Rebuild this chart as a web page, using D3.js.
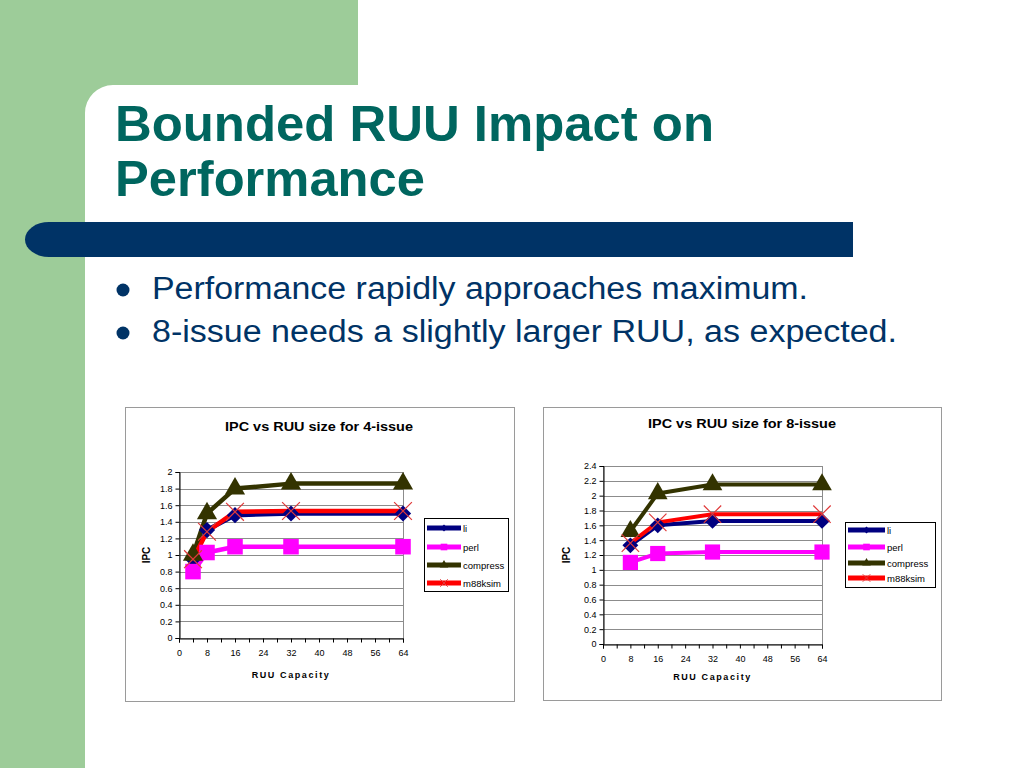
<!DOCTYPE html>
<html>
<head>
<meta charset="utf-8">
<script src="https://cdn.jsdelivr.net/npm/d3@7"></script>
<style>
  body { margin: 0; background: #fff; }
  svg { display: block; font-family: "Liberation Sans", Arial, sans-serif; }
</style>
</head>
<body>
<svg id="slide" width="1024" height="768"></svg>
<script>
// Data
const seriesNames = ["li", "perl", "compress", "m88ksim"];

const ruu4 = [4, 8, 16, 32, 64];
const li4 = [0.95, 1.3, 1.48, 1.5, 1.5];
const perl4 = [0.8, 1.03, 1.1, 1.1, 1.1];
const compress4 = [1.0, 1.5, 1.8, 1.86, 1.86];
const m88ksim4 = [0.95, 1.28, 1.52, 1.53, 1.53];

const ruu8 = [8, 16, 32, 64];
const li8 = [1.33, 1.6, 1.66, 1.66];
const perl8 = [1.1, 1.22, 1.24, 1.24];
const compress8 = [1.52, 2.03, 2.15, 2.15];
const m88ksim8 = [1.36, 1.64, 1.75, 1.75];

const xTicks = [0, 8, 16, 24, 32, 40, 48, 56, 64];
const yTicks4 = [0, 0.2, 0.4, 0.6, 0.8, 1, 1.2, 1.4, 1.6, 1.8, 2];
const yTicks8 = [0, 0.2, 0.4, 0.6, 0.8, 1, 1.2, 1.4, 1.6, 1.8, 2, 2.2, 2.4];

const bullets = [
  "Performance rapidly approaches maximum.",
  "8-issue needs a slightly larger RUU, as expected."
];
const bulletWidths = [656, 745];

const svg = d3.select("#slide");

// slide background: green L shape with a rounded inner corner
svg.append("path")
  .attr("d", "M0,0 H358 V85 H113 A28,28 0 0 0 85,113 V768 H0 Z")
  .attr("fill", "#9dcc99");

// title
const title = svg.append("text")
  .attr("font-size", 50).attr("font-weight", "bold").attr("fill", "#00665f");
title.append("tspan").attr("x", 115).attr("y", 141)
  .attr("textLength", 599).attr("lengthAdjust", "spacingAndGlyphs").text("Bounded RUU Impact on");
title.append("tspan").attr("x", 115).attr("y", 196)
  .attr("textLength", 310).attr("lengthAdjust", "spacingAndGlyphs").text("Performance");

// dark blue bar
svg.append("rect").attr("x", 25).attr("y", 222).attr("width", 828).attr("height", 35)
  .attr("rx", 24).attr("ry", 17.5).attr("fill", "#003366");
svg.append("rect").attr("x", 100).attr("y", 222).attr("width", 753).attr("height", 35)
  .attr("fill", "#003366");

// bullets
bullets.forEach(function (b, i) {
  svg.append("circle").attr("cx", 123).attr("cy", 290 + i * 43).attr("r", 6.5).attr("fill", "#003366");
  svg.append("text").attr("x", 152).attr("y", 299 + i * 43)
    .attr("font-size", 31).attr("fill", "#003366")
    .attr("textLength", bulletWidths[i]).attr("lengthAdjust", "spacingAndGlyphs").text(b);
});

const colors = { li: "#000080", perl: "#ff00ff", compress: "#333300", m88ksim: "#ff0000" };

function marker(name, size) {
  if (name === "li") return { path: d3.symbol(d3.symbolSquare, size * 0.6)(), rot: 45, fill: colors.li, stroke: "none" };
  if (name === "perl") return { path: d3.symbol(d3.symbolSquare, size * 1.1)(), rot: 0, fill: colors.perl, stroke: "none" };
  if (name === "compress") return { path: d3.symbol(d3.symbolTriangle, size * 0.8)(), rot: 0, fill: colors.compress, stroke: "none" };
  return { path: d3.symbol(d3.symbolX, size * 0.95)(), rot: 0, fill: "none", stroke: "#e03a3a" };
}

function drawChart(cfg) {
  const g = svg.append("g");

  g.append("rect").attr("x", cfg.box[0] + 0.5).attr("y", cfg.box[1] + 0.5)
    .attr("width", cfg.box[2]).attr("height", cfg.box[3])
    .attr("fill", "#fff").attr("stroke", "#9a9a9a");

  const x = d3.scaleLinear().domain([0, 64]).range([cfg.plot.l, cfg.plot.r]);
  const y = d3.scaleLinear().domain([0, cfg.yMax]).range([cfg.plot.b, cfg.plot.t]);

  // gridlines
  g.append("g").selectAll("line").data(cfg.yTicks).join("line")
    .attr("x1", cfg.plot.l).attr("x2", cfg.plot.r)
    .attr("y1", d => Math.round(y(d)) + 0.5).attr("y2", d => Math.round(y(d)) + 0.5)
    .attr("stroke", "#8c8c8c").attr("stroke-width", 1);

  g.append("rect").attr("x", cfg.plot.l + 0.5).attr("y", Math.round(y(cfg.yMax)) + 0.5)
    .attr("width", cfg.plot.r - cfg.plot.l).attr("height", Math.round(y(0)) - Math.round(y(cfg.yMax)))
    .attr("fill", "none").attr("stroke", "#8c8c8c");

  // axes
  const yAxis = d3.axisLeft(y).tickValues(cfg.yTicks).tickSize(4)
    .tickFormat(d => String(+d.toFixed(1)));
  g.append("g").attr("transform", "translate(" + (cfg.plot.l + 0.5) + ",0)").call(yAxis)
    .call(a => a.select(".domain").attr("stroke", "#000"))
    .call(a => a.selectAll("text").attr("font-size", 9).attr("font-family", "Liberation Sans, Arial").attr("fill", "#000"));

  const xAxis = d3.axisBottom(x).tickValues(d3.range(0, 65, 4)).tickSize(4)
    .tickFormat(d => xTicks.includes(d) ? d : "");
  g.append("g").attr("transform", "translate(0," + (Math.round(y(0)) + 0.5) + ")").call(xAxis)
    .call(a => a.select(".domain").attr("stroke", "#000"))
    .call(a => a.selectAll("text").attr("font-size", 9).attr("dy", "1.2em").attr("font-family", "Liberation Sans, Arial").attr("fill", "#000"));

  // titles
  g.append("text").attr("x", cfg.titleX - cfg.titleW / 2).attr("y", cfg.titleY)
    .attr("font-size", 12.5).attr("font-weight", "bold")
    .attr("textLength", cfg.titleW).attr("lengthAdjust", "spacingAndGlyphs").text(cfg.title);
  g.append("text").attr("x", (cfg.plot.l + cfg.plot.r) / 2 + 0).attr("y", cfg.xTitleY).attr("text-anchor", "middle")
    .attr("font-size", 9).attr("font-weight", "bold").attr("letter-spacing", 1.6).text("RUU Capacity");
  g.append("text").attr("transform", "translate(" + cfg.yTitleX + "," + ((cfg.plot.t + cfg.plot.b) / 2) + ") rotate(-90)")
    .attr("text-anchor", "middle").attr("font-size", 10).attr("font-weight", "bold").text("IPC");

  const line = d3.line().x(d => x(d[0])).y(d => y(d[1]));

  // lines first, then markers on top
  cfg.series.forEach(function (s) {
    g.append("path").datum(cfg.xs.map((v, i) => [v, s.values[i]]))
      .attr("d", line).attr("fill", "none").attr("stroke", colors[s.name])
      .attr("stroke-width", cfg.lineW).attr("stroke-linejoin", "round");
  });
  cfg.series.forEach(function (s) {
    const m = marker(s.name, cfg.markSize);
    g.append("g").selectAll("path").data(cfg.xs.map((v, i) => [v, s.values[i]])).join("path")
      .attr("d", m.path)
      .attr("transform", d => "translate(" + x(d[0]) + "," + y(d[1]) + ") rotate(" + m.rot + ")")
      .attr("fill", m.fill).attr("stroke", m.stroke).attr("stroke-width", 1.2);
  });

  // legend
  const lg = g.append("g");
  lg.append("rect").attr("x", cfg.legend.x + 0.5).attr("y", cfg.legend.y + 0.5)
    .attr("width", cfg.legend.w).attr("height", cfg.legend.h)
    .attr("fill", "#fff").attr("stroke", "#000");
  seriesNames.forEach(function (name, i) {
    const ly = cfg.legend.rows[i];
    lg.append("line").attr("x1", cfg.legend.x + 3).attr("x2", cfg.legend.x + cfg.legend.lineW)
      .attr("y1", ly).attr("y2", ly).attr("stroke", colors[name]).attr("stroke-width", 5);
    const m = marker(name, 40);
    lg.append("path").attr("d", m.path)
      .attr("transform", "translate(" + (cfg.legend.x + (3 + cfg.legend.lineW) / 2) + "," + ly + ") rotate(" + m.rot + ")")
      .attr("fill", m.fill).attr("stroke", m.stroke).attr("stroke-width", 1);
    lg.append("text").attr("x", cfg.legend.x + cfg.legend.lineW + 2).attr("y", ly + 3.5)
      .attr("font-size", 9.5).text(name);
  });
}

drawChart({
  box: [125, 407, 389, 294],
  plot: { l: 179, r: 403, t: 472, b: 638 },
  yMax: 2, yTicks: yTicks4,
  xs: ruu4,
  series: [
    { name: "li", values: li4 },
    { name: "perl", values: perl4 },
    { name: "compress", values: compress4 },
    { name: "m88ksim", values: m88ksim4 }
  ],
  title: "IPC vs RUU size for 4-issue", titleX: 319, titleW: 188, titleY: 431,
  xTitleY: 678, yTitleX: 150,
  lineW: 4.5, markSize: 220,
  legend: { x: 424, y: 518, w: 84, h: 73, rows: [528, 547, 565, 583], lineW: 37 }
});

drawChart({
  box: [543, 407, 398, 293],
  plot: { l: 603, r: 822, t: 466, b: 644 },
  yMax: 2.4, yTicks: yTicks8,
  xs: ruu8,
  series: [
    { name: "li", values: li8 },
    { name: "perl", values: perl8 },
    { name: "compress", values: compress8 },
    { name: "m88ksim", values: m88ksim8 }
  ],
  title: "IPC vs RUU size for 8-issue", titleX: 742, titleW: 188, titleY: 428,
  xTitleY: 680, yTitleX: 570,
  lineW: 4, markSize: 210,
  legend: { x: 845, y: 522, w: 90, h: 65, rows: [530, 547, 563, 578], lineW: 40 }
});
</script>
</body>
</html>
